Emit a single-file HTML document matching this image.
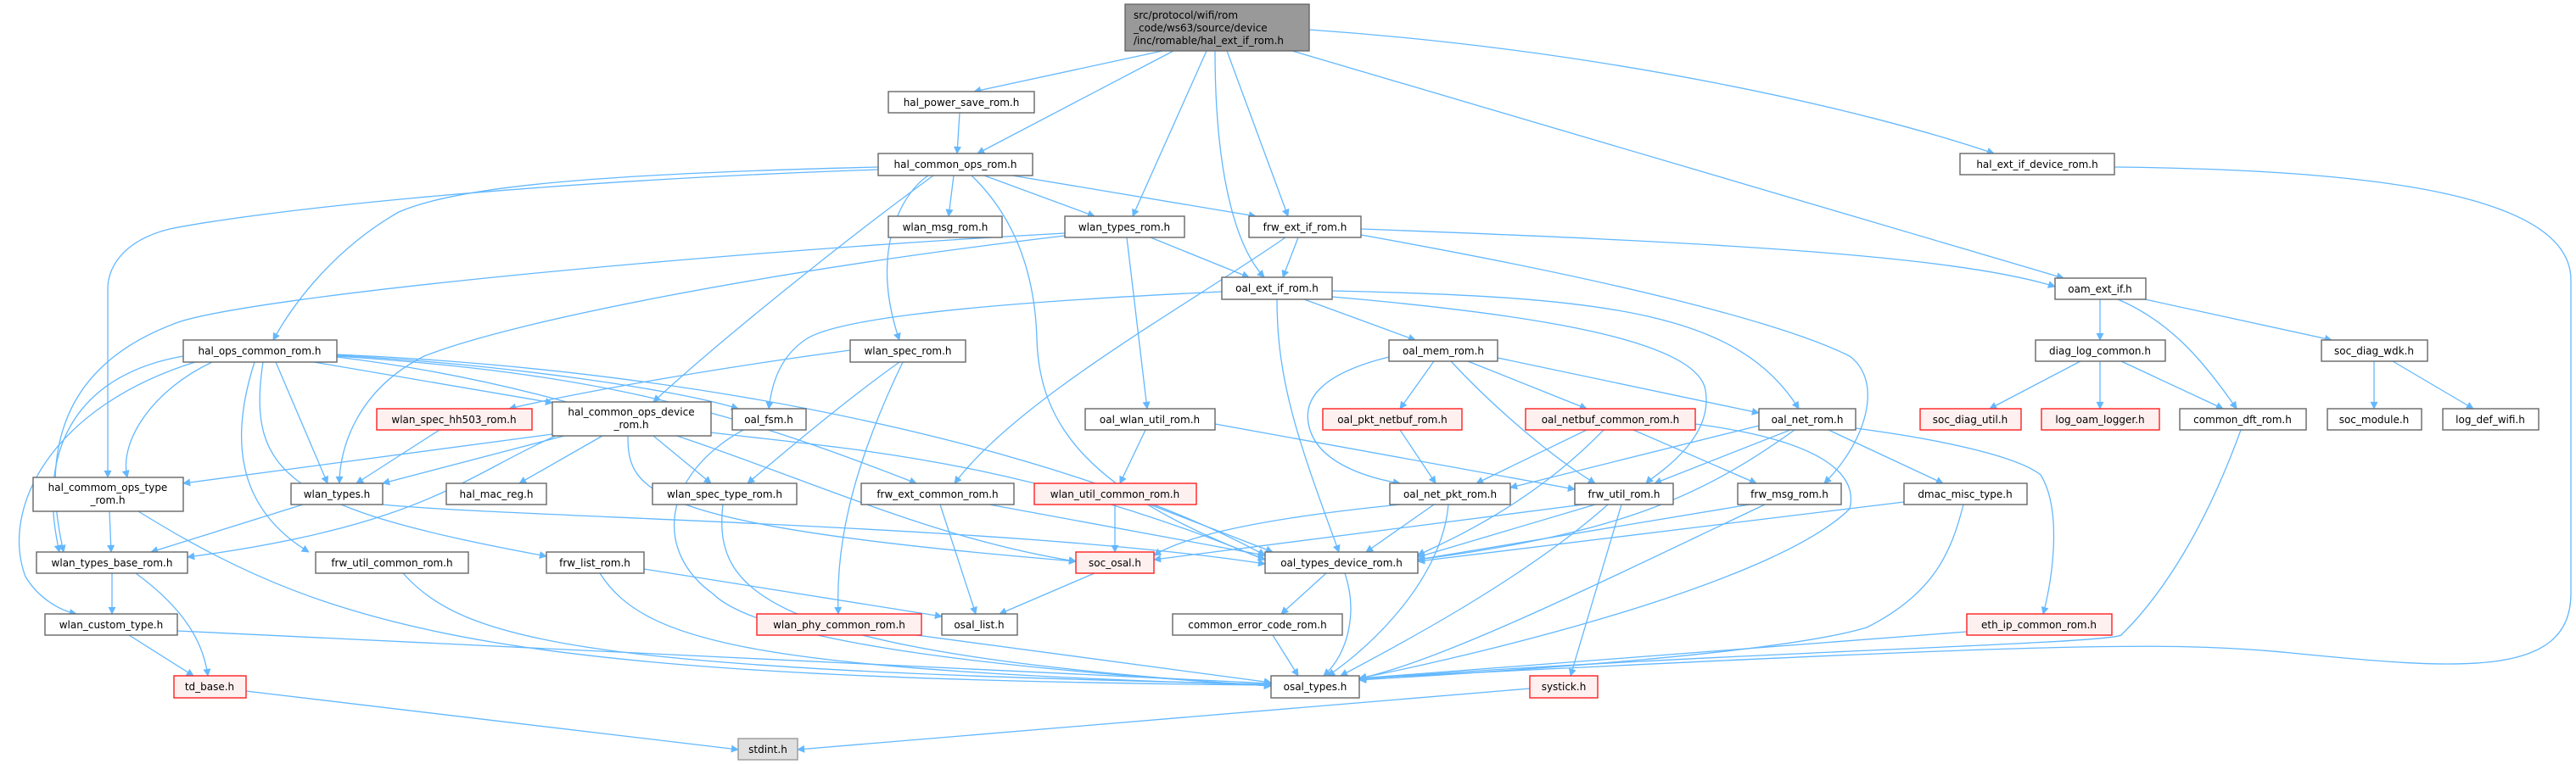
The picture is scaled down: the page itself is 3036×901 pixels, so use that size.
<!DOCTYPE html>
<html><head><meta charset="utf-8"><style>
html,body{margin:0;padding:0;background:#fff;}
svg{display:block;}
.e{fill:none;stroke:#63b8ff;stroke-width:1.3;}
.n rect{fill:#fff;stroke:#666;stroke-width:1.4;}
.r rect{fill:#fff0f0;stroke:#ff2020;stroke-width:1.4;}
text{font-family:"DejaVu Sans","Liberation Sans",sans-serif;font-size:12px;fill:#000;text-anchor:middle;}
</style></head><body>
<svg width="3036" height="901" viewBox="0 0 3036 901" xmlns="http://www.w3.org/2000/svg">
<defs><marker id="a" viewBox="0 0 10 10" refX="9" refY="5" markerWidth="11" markerHeight="9" markerUnits="userSpaceOnUse" orient="auto"><path d="M0,0 L10,5 L0,10 z" fill="#63b8ff"/></marker></defs>
<g class="e" marker-end="url(#a)">
<path d="M1370,60 L1148,108"/>
<path d="M1383,60 L1152,181"/>
<path d="M1422,60 L1335,255"/>
<path d="M1432,60 C1432,200 1455,290 1490,327"/>
<path d="M1446,60 L1518,255"/>
<path d="M1543,35 C1900,60 2200,130 2350,181"/>
<path d="M1523,60 L2432,328"/>
<path d="M1131,133 L1128,181"/>
<path d="M1124,207 L1118,255"/>
<path d="M1160,207 L1290,255"/>
<path d="M1193,207 L1480,255"/>
<path d="M1035,197 C700,205 540,220 470,250 C400,290 350,350 322,401"/>
<path d="M1035,200 C600,215 300,250 200,270 C140,285 127,320 127,340 L127,563"/>
<path d="M1255,275 C800,300 300,350 210,380 C100,420 40,500 75,651"/>
<path d="M1255,278 C900,320 600,380 500,420 C420,460 400,530 400,570"/>
<path d="M1100,207 C1000,280 850,400 770,474"/>
<path d="M1094,207 C1060,230 1025,300 1060,401"/>
<path d="M1145,207 C1200,260 1220,330 1222,400 C1225,500 1280,580 1491,660"/>
<path d="M1356,280 L1472,327"/>
<path d="M1328,280 L1352,482"/>
<path d="M1530,280 L1512,327"/>
<path d="M1515,280 C1400,360 1200,470 1125,570"/>
<path d="M1604,270 C2000,285 2300,300 2422,338"/>
<path d="M1604,277 C1900,330 2100,380 2180,420 C2220,450 2200,520 2150,570"/>
<path d="M1537,353 L1668,401"/>
<path d="M1440,344 C1100,360 980,380 950,400 C920,420 910,450 906,482"/>
<path d="M1505,353 C1505,450 1530,520 1578,651"/>
<path d="M1570,350 C1800,370 2000,400 2010,460 C2020,520 1950,560 1940,570"/>
<path d="M1570,343 C1900,350 2050,370 2120,482"/>
<path d="M2475,353 L2475,401"/>
<path d="M2496,353 C2560,380 2600,430 2636,482"/>
<path d="M2528,353 L2748,401"/>
<path d="M2452,426 L2345,482"/>
<path d="M2475,426 L2475,482"/>
<path d="M2500,426 L2620,482"/>
<path d="M2798,426 L2798,482"/>
<path d="M2820,426 L2915,482"/>
<path d="M2492,197 C2800,200 3030,230 3030,330 L3030,700 C3030,800 2900,790 2700,770 C2550,755 2400,760 1602,800"/>
<path d="M2641,507 C2600,620 2550,700 2500,749 C2480,760 2000,770 1602,801"/>
<path d="M2318,745 L1602,800"/>
<path d="M2244,592 L1671,662"/>
<path d="M2314,595 C2300,650 2280,700 2200,740 C2100,770 1800,790 1602,802"/>
<path d="M216,420 C100,440 40,520 70,651"/>
<path d="M250,427 C180,460 140,520 150,563"/>
<path d="M230,427 C60,480 0,600 30,680 C45,705 70,720 90,724"/>
<path d="M325,427 L386,570"/>
<path d="M300,427 C270,520 280,600 364,651"/>
<path d="M310,427 C290,560 340,600 644,656"/>
<path d="M370,427 L651,475"/>
<path d="M397,419 C600,430 800,460 870,482"/>
<path d="M397,420 C700,440 850,480 1080,570"/>
<path d="M397,418 C900,440 1300,550 1491,655"/>
<path d="M397,421 C800,470 1000,620 1268,662"/>
<path d="M1002,413 C800,440 650,470 600,482"/>
<path d="M1060,427 C1000,470 940,520 881,570"/>
<path d="M1064,427 C1000,560 985,650 988,724"/>
<path d="M518,507 L420,570"/>
<path d="M651,512 L216,570"/>
<path d="M665,514 L451,570"/>
<path d="M710,514 L612,570"/>
<path d="M655,514 C550,560 500,620 221,657"/>
<path d="M770,514 L838,570"/>
<path d="M838,510 C1000,530 1200,540 1491,660"/>
<path d="M740,514 C740,580 760,620 1268,662"/>
<path d="M357,595 L178,651"/>
<path d="M451,595 C600,610 1200,620 1491,665"/>
<path d="M129,603 L131,651"/>
<path d="M163,603 C400,750 600,800 1498,808"/>
<path d="M132,676 L132,724"/>
<path d="M160,676 C220,720 240,760 245,797"/>
<path d="M152,749 L228,797"/>
<path d="M209,744 L1498,806"/>
<path d="M290,815 L870,884"/>
<path d="M475,676 C550,760 700,790 1498,807"/>
<path d="M759,671 L1110,727"/>
<path d="M707,676 C760,760 900,790 1498,808"/>
<path d="M876,507 C780,560 770,650 840,700 C900,760 1200,790 1498,809"/>
<path d="M852,595 C840,700 900,770 1498,809"/>
<path d="M1108,595 L1150,724"/>
<path d="M1166,595 L1491,655"/>
<path d="M1314,595 L1314,651"/>
<path d="M1355,595 L1500,651"/>
<path d="M1350,507 L1320,570"/>
<path d="M1432,500 L1856,577"/>
<path d="M1290,676 L1178,724"/>
<path d="M1080,749 L1498,805"/>
<path d="M1563,676 L1510,724"/>
<path d="M1585,676 C1600,720 1590,770 1560,797"/>
<path d="M1500,749 L1530,797"/>
<path d="M1803,812 L940,884"/>
<path d="M1690,426 L1650,482"/>
<path d="M1730,426 L1870,482"/>
<path d="M1765,422 L2073,487"/>
<path d="M1710,426 C1760,480 1830,540 1880,570"/>
<path d="M1637,421 C1560,440 1530,470 1545,510 C1560,550 1620,565 1650,570"/>
<path d="M1650,507 L1692,570"/>
<path d="M1870,507 L1740,570"/>
<path d="M1925,507 L2070,570"/>
<path d="M1890,507 C1800,600 1700,640 1671,655"/>
<path d="M1998,500 C2150,520 2190,560 2180,600 C2100,680 1800,760 1602,800"/>
<path d="M2073,502 L1780,575"/>
<path d="M2110,507 L1950,570"/>
<path d="M2115,507 C2000,590 1900,630 1671,660"/>
<path d="M2155,507 L2290,570"/>
<path d="M2187,505 C2300,520 2380,540 2405,560 C2430,600 2420,680 2408,724"/>
<path d="M1650,595 C1500,610 1400,630 1360,655"/>
<path d="M1690,595 L1610,651"/>
<path d="M1707,595 C1700,680 1620,760 1565,797"/>
<path d="M1866,595 L1360,660"/>
<path d="M1880,595 L1671,657"/>
<path d="M1895,595 C1800,680 1650,760 1580,797"/>
<path d="M1911,595 L1851,797"/>
<path d="M2062,595 L1671,660"/>
<path d="M2080,595 C1900,680 1700,780 1602,800"/>
</g>
<g>
<rect x="1326" y="5" width="217" height="55" fill="#999" stroke="#666" stroke-width="1.4"/>
<text x="1336" y="22" style="text-anchor:start">src/protocol/wifi/rom</text>
<text x="1336" y="37" style="text-anchor:start">_code/ws63/source/device</text>
<text x="1336" y="52" style="text-anchor:start">/inc/romable/hal_ext_if_rom.h</text>
</g>
<g class="n">
<rect x="1047" y="108" width="172" height="25"/><text x="1133" y="125">hal_power_save_rom.h</text>
<rect x="1035" y="181" width="182" height="26"/><text x="1126" y="198">hal_common_ops_rom.h</text>
<rect x="1047" y="255" width="134" height="25"/><text x="1114" y="272">wlan_msg_rom.h</text>
<rect x="1255" y="255" width="141" height="25"/><text x="1325" y="272">wlan_types_rom.h</text>
<rect x="1472" y="255" width="132" height="25"/><text x="1538" y="272">frw_ext_if_rom.h</text>
<rect x="1440" y="327" width="130" height="26"/><text x="1505" y="344">oal_ext_if_rom.h</text>
<rect x="2310" y="181" width="182" height="25"/><text x="2401" y="198">hal_ext_if_device_rom.h</text>
<rect x="2422" y="328" width="107" height="25"/><text x="2475" y="345">oam_ext_if.h</text>
<rect x="216" y="401" width="181" height="26"/><text x="306" y="418">hal_ops_common_rom.h</text>
<rect x="1002" y="401" width="136" height="26"/><text x="1070" y="418">wlan_spec_rom.h</text>
<rect x="1637" y="401" width="128" height="25"/><text x="1701" y="418">oal_mem_rom.h</text>
<rect x="2399" y="401" width="153" height="25"/><text x="2475" y="418">diag_log_common.h</text>
<rect x="2736" y="401" width="125" height="25"/><text x="2798" y="418">soc_diag_wdk.h</text>
<rect x="651" y="474" width="187" height="40"/><text x="744" y="490">hal_common_ops_device</text><text x="744" y="505">_rom.h</text>
<rect x="863" y="482" width="87" height="25"/><text x="906" y="499">oal_fsm.h</text>
<rect x="1279" y="482" width="153" height="25"/><text x="1355" y="499">oal_wlan_util_rom.h</text>
<rect x="2073" y="482" width="114" height="25"/><text x="2130" y="499">oal_net_rom.h</text>
<rect x="2569" y="482" width="149" height="25"/><text x="2643" y="499">common_dft_rom.h</text>
<rect x="2743" y="482" width="111" height="25"/><text x="2798" y="499">soc_module.h</text>
<rect x="2879" y="482" width="113" height="25"/><text x="2935" y="499">log_def_wifi.h</text>
<rect x="39" y="563" width="177" height="40"/><text x="127" y="579">hal_commom_ops_type</text><text x="127" y="594">_rom.h</text>
<rect x="343" y="570" width="108" height="25"/><text x="397" y="587">wlan_types.h</text>
<rect x="526" y="570" width="118" height="25"/><text x="585" y="587">hal_mac_reg.h</text>
<rect x="769" y="570" width="170" height="25"/><text x="854" y="587">wlan_spec_type_rom.h</text>
<rect x="1015" y="570" width="180" height="25"/><text x="1105" y="587">frw_ext_common_rom.h</text>
<rect x="1638" y="570" width="142" height="25"/><text x="1709" y="587">oal_net_pkt_rom.h</text>
<rect x="1856" y="570" width="116" height="25"/><text x="1914" y="587">frw_util_rom.h</text>
<rect x="2048" y="570" width="122" height="25"/><text x="2109" y="587">frw_msg_rom.h</text>
<rect x="2244" y="570" width="145" height="25"/><text x="2316" y="587">dmac_misc_type.h</text>
<rect x="43" y="651" width="178" height="25"/><text x="132" y="668">wlan_types_base_rom.h</text>
<rect x="372" y="651" width="180" height="25"/><text x="462" y="668">frw_util_common_rom.h</text>
<rect x="644" y="651" width="115" height="25"/><text x="701" y="668">frw_list_rom.h</text>
<rect x="1491" y="651" width="180" height="25"/><text x="1581" y="668">oal_types_device_rom.h</text>
<rect x="53" y="724" width="156" height="25"/><text x="131" y="741">wlan_custom_type.h</text>
<rect x="1110" y="724" width="89" height="25"/><text x="1154" y="741">osal_list.h</text>
<rect x="1382" y="724" width="200" height="25"/><text x="1482" y="741">common_error_code_rom.h</text>
<rect x="1498" y="797" width="104" height="26"/><text x="1550" y="814">osal_types.h</text>
</g>
<g class="r">
<rect x="444" y="482" width="183" height="25"/><text x="535" y="499">wlan_spec_hh503_rom.h</text>
<rect x="1559" y="482" width="164" height="25"/><text x="1641" y="499">oal_pkt_netbuf_rom.h</text>
<rect x="1798" y="482" width="200" height="25"/><text x="1898" y="499">oal_netbuf_common_rom.h</text>
<rect x="2263" y="482" width="119" height="25"/><text x="2322" y="499">soc_diag_util.h</text>
<rect x="2406" y="482" width="139" height="25"/><text x="2475" y="499">log_oam_logger.h</text>
<rect x="1219" y="570" width="191" height="25"/><text x="1314" y="587">wlan_util_common_rom.h</text>
<rect x="1268" y="651" width="92" height="25"/><text x="1314" y="668">soc_osal.h</text>
<rect x="892" y="724" width="194" height="25"/><text x="989" y="741">wlan_phy_common_rom.h</text>
<rect x="2318" y="724" width="171" height="25"/><text x="2403" y="741">eth_ip_common_rom.h</text>
<rect x="205" y="797" width="85" height="26"/><text x="247" y="814">td_base.h</text>
<rect x="1803" y="797" width="80" height="26"/><text x="1843" y="814">systick.h</text>
</g>
<rect x="870" y="871" width="70" height="25" fill="#e0e0e0" stroke="#999" stroke-width="1.4"/><text x="905" y="888">stdint.h</text>
</svg>
</body></html>
